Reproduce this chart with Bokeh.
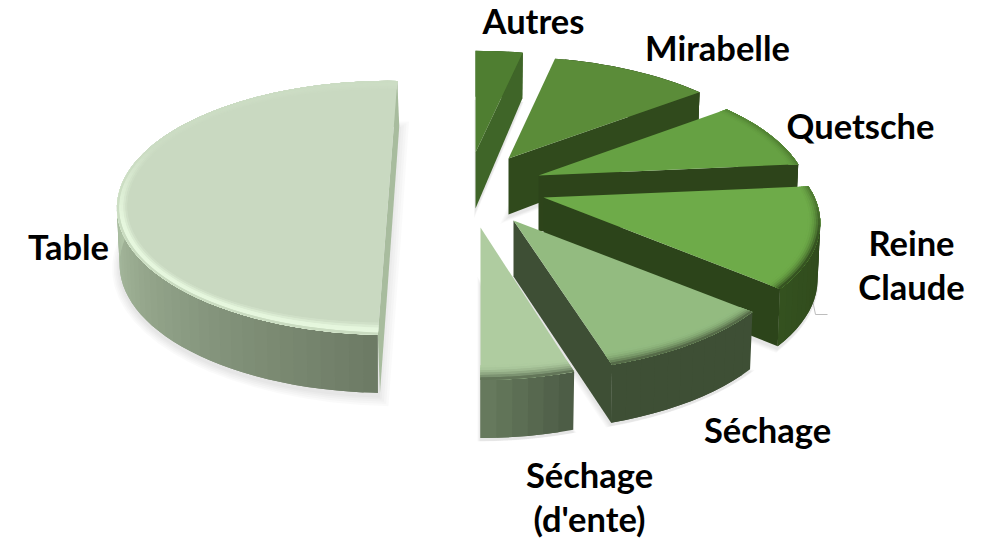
import numpy as np
from bokeh.plotting import figure
from bokeh.embed import file_html
from bokeh.resources import INLINE
from bokeh.core.properties import value

# ---- data (share of the pie, %) ----
categories = ["Autres", "Mirabelle", "Quetsche", "Reine\nClaude", "Séchage", "Séchage\n(d'ente)", "Table"]
shares = [3.3, 11.3, 8.9, 12.8, 9.0, 4.7, 50.0]

# ---- layout / style ----
tips = [(475, 152), (508, 158), (538, 175), (543, 197), (513, 220), (480, 227), (389, 182)]
rx_scale = [1.0, 0.985, 0.97, 0.99, 1.0, 0.95, 0.975]
tops = ["#4f7e31", "#5b8c39", "#66a143", "#6eab49", "#93bb80", "#afcca0", "#c9d9c1"]
wall_end = ["#3f6528", "#304a1c", "#2d441a", "#2c441a", "#3e4f35", "#3e4f35", "#a8bc9e"]
wall_a = ["#3f6528", "#304a1c", "#2d441a", "#2c441a", "#3e4f35", "#4a5a44", "#6c7a64"]   # arc wall at slice start
wall_b = ["#3f6528", "#304a1c", "#2d441a", "#34511f", "#3e4f35", "#697c5f", "#b2c6a9"]   # arc wall at slice end
bevel_to = ["#3f6528", "#304a1c", "#3a5c22", "#2c441a", "#4a5c3f", "#55664c", "#e6f7de"]
label_x = [533, 717, 860, 911, 767, 589, 68]
label_y = [20, 47, 125, 264, 429, 496, 246]
table_start = 182.0
R, K, P = 274.0, 122.0, 0.2
RIM_PX = 12.0

def hex2rgb(h):
    return np.array([int(h[i:i + 2], 16) for i in (1, 3, 5)], float)

def mix(a, b, t):
    c = hex2rgb(a) * (1 - t) + hex2rgb(b) * t
    return "#%02x%02x%02x" % tuple(int(round(v)) for v in c)

def proj(i, theta, r=1.0):
    tip = tips[i]
    t = np.radians(theta)
    u, v = r * np.sin(t), r * np.cos(t)
    f = 1 / (1 + P * v)
    return tip[0] + R * rx_scale[i] * u * f, tip[1] - K * v * f

def drop(i, theta, r=1.0):
    x, y = proj(i, theta, r)
    v = r * np.cos(np.radians(theta))
    h = 56 - 10 * max(v, 0) + 2 * max(-v, 0)
    return x - 0.01 * (x - tips[i][0]), y + h

def rim_r(theta, frac):
    t = np.radians(theta)
    f = 1 / (1 + P * np.cos(t))
    scale = np.hypot(R * np.sin(t), K * np.cos(t)) * f
    return 1 - (1 - frac) * RIM_PX / scale

p = figure(width=984, height=540, x_range=(0, 984), y_range=(540, 0),
           toolbar_location=None, output_backend="svg", min_border=0)
p.axis.visible = False
p.grid.visible = False
p.outline_line_color = None
p.background_fill_color = "white"

# slice angles from the shares
start = 0.0
angles = []
for i, s in enumerate(shares):
    sweep = s * 3.6
    if i == len(shares) - 1:
        angles.append((table_start, table_start + sweep))
    else:
        angles.append((start, start + sweep))
        start += sweep

xs, ys, cols, alphas = [], [], [], []

def add(px, py, c, a=1.0):
    xs.append(list(map(float, px)))
    ys.append(list(map(float, py)))
    cols.append(c)
    alphas.append(a)

# soft shadows under every slice
for i, (a0, a1) in enumerate(angles):
    tip = tips[i]
    th = np.linspace(a0, a1, 40)
    bx = [tip[0]] + [drop(i, t)[0] for t in th]
    by = [tip[1] + 56] + [drop(i, t)[1] for t in th]
    cx, cy = np.mean(bx), np.mean(by)
    for g in (1.07, 1.055, 1.04, 1.025, 1.012):
        gx = [cx + (x - cx) * g for x in bx]
        gy = [cy + (y - cy) * g + 3 for y in by]
        add(gx, gy, "#000000", 0.02)

p.patches(xs, ys, fill_color=cols, fill_alpha=alphas, line_color=None)

# leader line of the Reine Claude label
leader_x = [810, 815, 827]
leader_y = [290, 314, 314]
p.line(leader_x, leader_y, line_color="#bdbdbd", line_width=1)

xs, ys, cols = [], [], []
order = [6, 0, 1, 2, 3, 4, 5]
for i in order:
    a0, a1 = angles[i]
    tip = tips[i]
    n = max(6, int((a1 - a0) / 2.5))
    th = np.linspace(a0, a1, n + 1)
    # outer wall, shaded along the arc; each strip overlaps the next so no seam shows
    for k in range(n):
        t0, t1 = th[k], th[min(k + 2, n)]
        tm = th[k + 1]
        p0, pm, p1 = proj(i, t0), proj(i, tm), proj(i, t1)
        q0, qm, q1 = drop(i, t0), drop(i, tm), drop(i, t1)
        add([p0[0], pm[0], p1[0], q1[0], qm[0], q0[0]], [p0[1], pm[1], p1[1], q1[1], qm[1], q0[1]],
            mix(wall_a[i], wall_b[i], np.clip((k + .5) / n * (2 if i == 6 else 1), 0, 1)))
    # cut wall facing the viewer
    if i == 6:
        e0, e1 = proj(i, a0), proj(i, a1)
        d0 = drop(i, a0)
        add([e1[0], e1[0] + 2, d0[0] + 2, e0[0]], [e1[1], e1[1] + 45, d0[1], e0[1]], wall_end[i])
    else:
        e = proj(i, a1)
        d = drop(i, a1)
        add([tip[0], e[0], d[0], tip[0]], [tip[1], e[1], d[1], tip[1] + 56], wall_end[i])
    # top face
    tx = [tip[0]] + [proj(i, t)[0] for t in th]
    ty = [tip[1]] + [proj(i, t)[1] for t in th]
    add(tx, ty, tops[i])
    # rounded rim of the top face
    fr = np.linspace(0, 1, 7)
    for b in range(6):
        for k in range(n):
            t0, t1 = th[k], th[min(k + 2, n)]
            tm = np.radians(th[k] + (th[1] - th[0]) / 2)
            front = float(np.clip((-np.cos(tm) + 0.3) / 0.6, 0, 1))
            if i == 6:
                s = 0.12 + 0.88 * front
                prof = [0.0, 0.25, 0.6, 0.95, 1.0, 0.7][b]
                c = mix(tops[i], bevel_to[i], prof * s)
                if b == 5:
                    c = mix(c, wall_b[i], 0.45 * front)
            else:
                prof = ((b + .5) / 6) ** 2
                side = max(front, 0.55 * float(np.clip(np.sin(tm), 0, 1)) if i in (2, 3) else 0)
                c = mix(tops[i], bevel_to[i], prof * side)
            if c == tops[i]:
                continue
            a = proj(i, t0, rim_r(t0, fr[b])); e = proj(i, t1, rim_r(t1, fr[b]))
            f = proj(i, t1, rim_r(t1, 1.0)); g = proj(i, t0, rim_r(t0, 1.0))
            add([a[0], e[0], f[0], g[0]], [a[1], e[1], f[1], g[1]], c)

p.patches(xs, ys, fill_color=cols, line_color=None)

p.text(label_x, label_y, text=categories, text_font=value("Lato"), text_font_style="bold",
       text_font_size="34.5px", text_color="#000000", text_align="center",
       text_baseline="middle", text_line_height=1.07)

open("out.html", "w").write(file_html(p, INLINE))
